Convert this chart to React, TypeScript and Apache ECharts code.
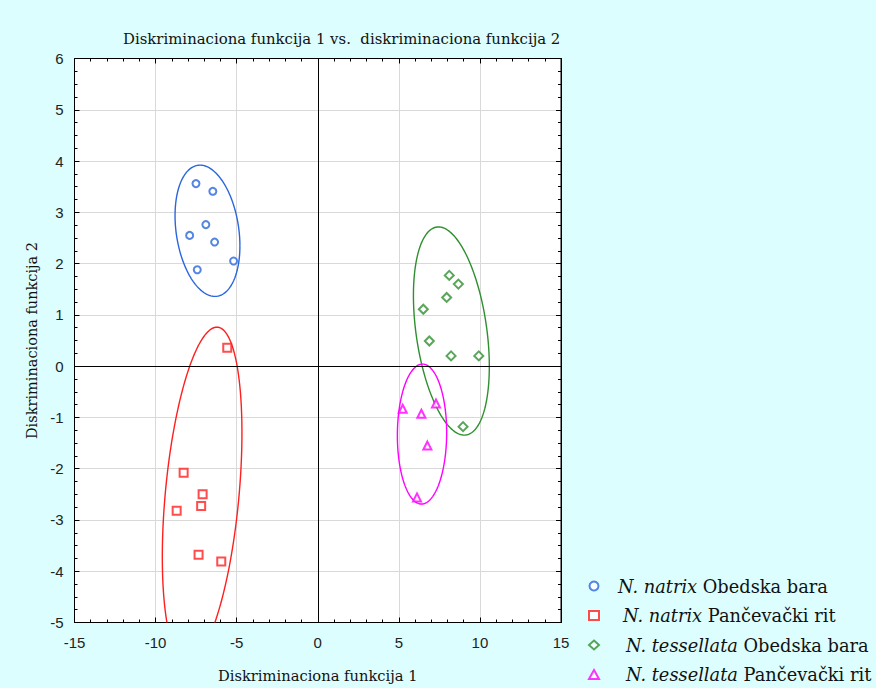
import React, { useEffect, useRef } from "react";
import * as echarts from "echarts";

const speciesLabels = ["N. natrix", "N. natrix", "N. tessellata", "N. tessellata"];
const localityLabels = ["Obedska bara", "Pančevački rit", "Obedska bara", "Pančevački rit"];
const groupNames = speciesLabels.map((s, i) => s + " " + localityLabels[i]);
const groupColors = ["#2a66dc", "#ff1f1f", "#2f8f2f", "#ff00ff"];
const groupSymbols = ["emptyCircle", "emptyRect", "emptyDiamond", "emptyTriangle"];
const groupSymbolSizes = [7, 8, 9, 8];

// Diskriminaciona funkcija 1 (x) and 2 (y) per group
const natrixObedskaX = [-7.51, -6.47, -6.90, -7.90, -6.36, -5.19, -7.43];
const natrixObedskaY = [3.56, 3.41, 2.76, 2.55, 2.42, 2.05, 1.88];
const natrixPancevoX = [-5.58, -8.27, -7.10, -7.19, -8.70, -7.35, -5.95];
const natrixPancevoY = [0.36, -2.08, -2.50, -2.73, -2.82, -3.68, -3.81];
const tessellataObedskaX = [8.11, 8.67, 7.95, 6.51, 6.88, 8.22, 9.93, 8.96];
const tessellataObedskaY = [1.77, 1.60, 1.34, 1.11, 0.49, 0.20, 0.20, -1.18];
const tessellataPancevoX = [5.24, 6.39, 7.29, 6.76, 6.12];
const tessellataPancevoY = [-0.83, -0.93, -0.73, -1.55, -2.56];

const groupX = [natrixObedskaX, natrixPancevoX, tessellataObedskaX, tessellataPancevoX];
const groupY = [natrixObedskaY, natrixPancevoY, tessellataObedskaY, tessellataPancevoY];

// ellipse parameters (data units)
const ellipseCx = [-6.8, -7.13, 8.24, 6.43];
const ellipseCy = [2.64, -2.51, 0.685, -1.325];
const ellipseAx = [2.0, 2.455, 2.34, 1.52];
const ellipseAy = [1.28, 3.27, 2.03, 1.365];
const ellipseRho = [-0.23, 0.37, -0.34, 0.02];

const xTicks = { min: -15, max: 15, interval: 5 };
const yTicks = { min: -5, max: 6, interval: 1 };

const SERIF = "DejaVu Serif";
const SANS = "Liberation Sans";
const legendIndent = [14, 19, 22, 22];

export default function App() {
  const ref = useRef<HTMLDivElement>(null);
  useEffect(() => {
    if (!ref.current) return;
    const chart = echarts.init(ref.current, null, { renderer: "svg" });

    const scatterSeries = groupNames.map((name, g) => ({
      type: "scatter",
      name,
      xAxisIndex: 0,
      yAxisIndex: 0,
      symbol: groupSymbols[g],
      symbolSize: groupSymbolSizes[g],
      itemStyle: { color: groupColors[g], borderColor: groupColors[g], borderWidth: 1.3 },
      data: groupX[g].map((x, i) => [x, groupY[g][i]]),
      z: 5,
      ...(g === 0
        ? {
            markLine: {
              silent: true,
              symbol: "none",
              label: { show: false },
              lineStyle: { color: "#000", width: 1, type: "solid" },
              data: [{ xAxis: 0 }, { yAxis: 0 }],
            },
          }
        : {}),
    }));

    const ellipseSeries = groupNames.map((name, g) => ({
      type: "custom",
      name: "ellipse-" + g,
      xAxisIndex: 0,
      yAxisIndex: 0,
      clip: true,
      silent: true,
      z: 4,
      encode: { x: 0, y: 1 },
      data: [[ellipseCx[g], ellipseCy[g], ellipseAx[g], ellipseAy[g], ellipseRho[g]]],
      renderItem: (params: any, api: any) => {
        const cx = api.value(0);
        const cy = api.value(1);
        const ax = api.value(2);
        const ay = api.value(3);
        const phi = Math.acos(api.value(4));
        const pts: number[][] = [];
        const N = 180;
        for (let i = 0; i <= N; i++) {
          const t = (i / N) * Math.PI * 2;
          pts.push(api.coord([cx + ax * Math.cos(t), cy + ay * Math.cos(t - phi)]));
        }
        return {
          type: "polyline",
          shape: { points: pts },
          style: { fill: "none", stroke: groupColors[g], lineWidth: 1.4 },
        };
      },
    }));

    const tickCommon = {
      axisLine: { show: true, onZero: false, lineStyle: { color: "#000", width: 1 } },
      axisTick: { show: true, inside: true, length: 5, lineStyle: { color: "#000", width: 1 } },
    };

    const richLegend: any = {
      i: { fontFamily: SERIF, fontSize: 17.8, fontStyle: "italic", color: "#111", lineHeight: 20 },
      n: { fontFamily: SERIF, fontSize: 17.8, color: "#111", lineHeight: 20 },
    };
    legendIndent.forEach((w, g) => {
      richLegend["s" + g] = { width: w, lineHeight: 20 };
    });

    chart.setOption({
      animation: false,
      backgroundColor: "#dcfefe",
      title: {
        text: "Diskriminaciona funkcija 1 vs.  diskriminaciona funkcija 2",
        left: 118,
        top: 26,
        textStyle: { fontFamily: SERIF, fontSize: 14.9, fontWeight: "normal", color: "#111" },
      },
      grid: {
        left: 74.5,
        top: 58.5,
        right: 315,
        bottom: 65.5,
        show: true,
        backgroundColor: "#fff",
        borderColor: "#000",
        borderWidth: 1,
      },
      legend: {
        data: groupNames,
        orient: "vertical",
        left: 583,
        top: 571,
        height: 130,
        width: 300,
        itemWidth: 10,
        itemHeight: 9,
        itemGap: 9.5,
        selectedMode: false,
        formatter: (name: string) => {
          const g = groupNames.indexOf(name);
          return "{s" + g + "| }{i|" + speciesLabels[g] + "} {n|" + localityLabels[g] + "}";
        },
        textStyle: {
          fontFamily: SERIF,
          fontSize: 17.8,
          color: "#111",
          lineHeight: 20,
          rich: richLegend,
        },
      },
      xAxis: [
        {
          type: "value",
          ...xTicks,
          position: "bottom",
          ...tickCommon,
          minorTick: { show: true, splitNumber: 5, length: 3, lineStyle: { color: "#000", width: 1 } },
          axisLabel: { fontFamily: SANS, fontSize: 15, color: "#222", margin: 12 },
          splitLine: { show: true, lineStyle: { color: "#d9d9d9", width: 1 } },
          name: "Diskriminaciona funkcija 1",
          nameLocation: "middle",
          nameGap: 45,
          nameTextStyle: { fontFamily: SERIF, fontSize: 14.7, color: "#111" },
        },
        {
          type: "value",
          ...xTicks,
          position: "top",
          ...tickCommon,
          minorTick: { show: true, splitNumber: 5, length: 3, lineStyle: { color: "#000", width: 1 } },
          axisLabel: { show: false },
          splitLine: { show: false },
        },
      ],
      yAxis: [
        {
          type: "value",
          ...yTicks,
          position: "left",
          ...tickCommon,
          minorTick: { show: true, splitNumber: 4, length: 3, lineStyle: { color: "#000", width: 1 } },
          axisLabel: { fontFamily: SANS, fontSize: 15, color: "#222", margin: 11 },
          splitLine: { show: true, lineStyle: { color: "#d9d9d9", width: 1 } },
          name: "Diskriminaciona funkcija 2",
          nameLocation: "middle",
          nameGap: 34,
          nameTextStyle: { fontFamily: SERIF, fontSize: 14.5, color: "#111" },
        },
        {
          type: "value",
          ...yTicks,
          position: "right",
          ...tickCommon,
          minorTick: { show: true, splitNumber: 4, length: 3, lineStyle: { color: "#000", width: 1 } },
          axisLabel: { show: false },
          splitLine: { show: false },
        },
      ],
      series: [...ellipseSeries, ...scatterSeries],
    });
    return () => chart.dispose();
  }, []);
  return (
    <div
      ref={ref}
      style={{ position: "absolute", left: 0, top: 0, width: 876, height: 688 }}
    />
  );
}
